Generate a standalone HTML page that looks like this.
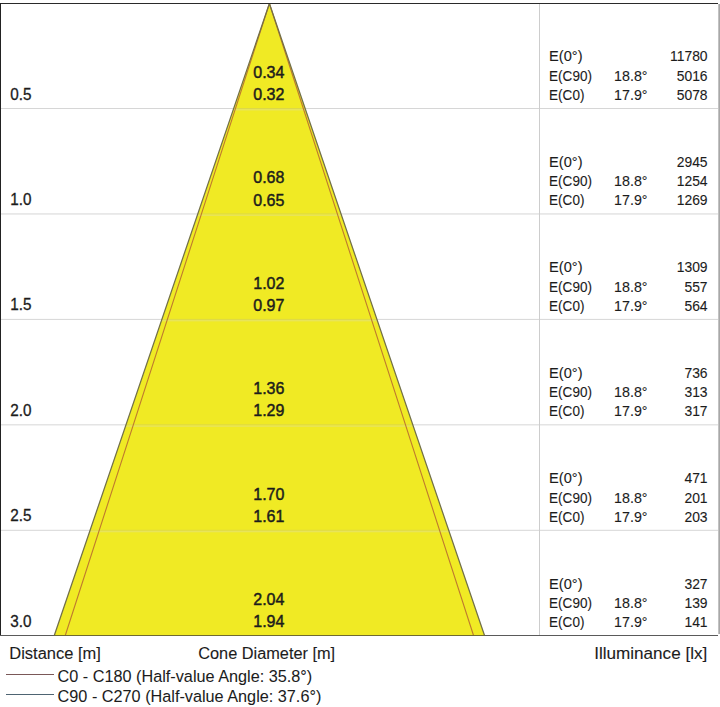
<!DOCTYPE html><html><head><meta charset="utf-8"><style>html,body{margin:0;padding:0;background:#fff;width:720px;height:707px;overflow:hidden}svg{display:block}text{font-family:"Liberation Sans",sans-serif;fill:#1c1c1c;stroke:#1c1c1c}</style></head><body>
<svg width="720" height="707" viewBox="0 0 720 707">
<rect x="1" y="108.00" width="717" height="1" fill="#d6d6d6"/>
<rect x="1" y="213.45" width="717" height="1" fill="#d6d6d6"/>
<rect x="1" y="318.90" width="717" height="1" fill="#d6d6d6"/>
<rect x="1" y="424.35" width="717" height="1" fill="#d6d6d6"/>
<rect x="1" y="529.80" width="717" height="1" fill="#d6d6d6"/>
<rect x="539" y="4" width="1" height="631" fill="#cdcdcd"/>
<polygon points="269.40,3.50 54.27,635.50 484.53,635.50" fill="#f0ea24"/>
<rect x="233.8" y="108.00" width="71.1" height="1" fill="#dcd848"/>
<rect x="233.5" y="109.00" width="71.8" height="1.5" fill="#e8e45a"/>
<rect x="197.9" y="213.45" width="142.9" height="1" fill="#dcd848"/>
<rect x="197.6" y="214.45" width="143.6" height="1.5" fill="#e8e45a"/>
<rect x="162.0" y="318.90" width="214.7" height="1" fill="#dcd848"/>
<rect x="161.7" y="319.90" width="215.4" height="1.5" fill="#e8e45a"/>
<rect x="126.1" y="424.35" width="286.5" height="1" fill="#dcd848"/>
<rect x="125.8" y="425.35" width="287.2" height="1.5" fill="#e8e45a"/>
<rect x="90.2" y="529.80" width="358.3" height="1" fill="#dcd848"/>
<rect x="89.9" y="530.80" width="359.0" height="1.5" fill="#e8e45a"/>
<path d="M269.40 3.50 L65.26 635.50 M269.40 3.50 L473.54 635.50" stroke="#bf7a2e" stroke-width="1.1" fill="none"/>
<path d="M269.40 3.50 L54.27 635.50 M269.40 3.50 L484.53 635.50" stroke="#727048" stroke-width="1.25" fill="none"/>
<rect x="0" y="3" width="718" height="1" fill="#2a2a2a"/>
<rect x="0" y="3" width="1" height="633" fill="#222"/>
<rect x="0" y="635" width="718" height="1" fill="#5a5a5a"/>
<rect x="718" y="4" width="1" height="630" fill="#c2c2c2"/>
<rect x="719" y="4" width="1" height="630" fill="#a8a8a8"/>
<rect x="54.3" y="635" width="430.3" height="1" fill="#6f6a30"/>
<text transform="translate(10.28 99.50) scale(0.9260 1)" font-size="16.50" stroke-width="0.30">0.5</text>
<text transform="translate(268.80 77.90) scale(1.0000 1)" font-size="16.00" stroke-width="0.45" text-anchor="middle">0.34</text>
<text transform="translate(268.80 100.10) scale(1.0000 1)" font-size="16.00" stroke-width="0.45" text-anchor="middle">0.32</text>
<text transform="translate(549.10 61.30) scale(1.0595 1)" font-size="13.80" stroke-width="0.10">E(0°)</text>
<text transform="translate(549.10 80.50) scale(0.9810 1)" font-size="13.80" stroke-width="0.10">E(C90)</text>
<text transform="translate(549.10 99.70) scale(0.9810 1)" font-size="13.80" stroke-width="0.10">E(C0)</text>
<text transform="translate(614.10 80.60) scale(1.0190 1)" font-size="14.00" stroke-width="0.10">18.8°</text>
<text transform="translate(614.10 99.80) scale(1.0190 1)" font-size="14.00" stroke-width="0.10">17.9°</text>
<text transform="translate(707.60 61.30) scale(0.9790 1)" font-size="14.20" stroke-width="0.10" text-anchor="end">11780</text>
<text transform="translate(707.60 80.50) scale(0.9790 1)" font-size="14.20" stroke-width="0.10" text-anchor="end">5016</text>
<text transform="translate(707.60 99.70) scale(0.9790 1)" font-size="14.20" stroke-width="0.10" text-anchor="end">5078</text>
<text transform="translate(10.28 204.95) scale(0.9260 1)" font-size="16.50" stroke-width="0.30">1.0</text>
<text transform="translate(268.80 183.35) scale(1.0000 1)" font-size="16.00" stroke-width="0.45" text-anchor="middle">0.68</text>
<text transform="translate(268.80 205.55) scale(1.0000 1)" font-size="16.00" stroke-width="0.45" text-anchor="middle">0.65</text>
<text transform="translate(549.10 166.80) scale(1.0595 1)" font-size="13.80" stroke-width="0.10">E(0°)</text>
<text transform="translate(549.10 186.00) scale(0.9810 1)" font-size="13.80" stroke-width="0.10">E(C90)</text>
<text transform="translate(549.10 205.20) scale(0.9810 1)" font-size="13.80" stroke-width="0.10">E(C0)</text>
<text transform="translate(614.10 186.10) scale(1.0190 1)" font-size="14.00" stroke-width="0.10">18.8°</text>
<text transform="translate(614.10 205.30) scale(1.0190 1)" font-size="14.00" stroke-width="0.10">17.9°</text>
<text transform="translate(707.60 166.80) scale(0.9790 1)" font-size="14.20" stroke-width="0.10" text-anchor="end">2945</text>
<text transform="translate(707.60 186.00) scale(0.9790 1)" font-size="14.20" stroke-width="0.10" text-anchor="end">1254</text>
<text transform="translate(707.60 205.20) scale(0.9790 1)" font-size="14.20" stroke-width="0.10" text-anchor="end">1269</text>
<text transform="translate(10.28 310.40) scale(0.9260 1)" font-size="16.50" stroke-width="0.30">1.5</text>
<text transform="translate(268.80 288.80) scale(1.0000 1)" font-size="16.00" stroke-width="0.45" text-anchor="middle">1.02</text>
<text transform="translate(268.80 311.00) scale(1.0000 1)" font-size="16.00" stroke-width="0.45" text-anchor="middle">0.97</text>
<text transform="translate(549.10 272.30) scale(1.0595 1)" font-size="13.80" stroke-width="0.10">E(0°)</text>
<text transform="translate(549.10 291.50) scale(0.9810 1)" font-size="13.80" stroke-width="0.10">E(C90)</text>
<text transform="translate(549.10 310.70) scale(0.9810 1)" font-size="13.80" stroke-width="0.10">E(C0)</text>
<text transform="translate(614.10 291.60) scale(1.0190 1)" font-size="14.00" stroke-width="0.10">18.8°</text>
<text transform="translate(614.10 310.80) scale(1.0190 1)" font-size="14.00" stroke-width="0.10">17.9°</text>
<text transform="translate(707.60 272.30) scale(0.9790 1)" font-size="14.20" stroke-width="0.10" text-anchor="end">1309</text>
<text transform="translate(707.60 291.50) scale(0.9790 1)" font-size="14.20" stroke-width="0.10" text-anchor="end">557</text>
<text transform="translate(707.60 310.70) scale(0.9790 1)" font-size="14.20" stroke-width="0.10" text-anchor="end">564</text>
<text transform="translate(10.28 415.85) scale(0.9260 1)" font-size="16.50" stroke-width="0.30">2.0</text>
<text transform="translate(268.80 394.25) scale(1.0000 1)" font-size="16.00" stroke-width="0.45" text-anchor="middle">1.36</text>
<text transform="translate(268.80 416.45) scale(1.0000 1)" font-size="16.00" stroke-width="0.45" text-anchor="middle">1.29</text>
<text transform="translate(549.10 377.80) scale(1.0595 1)" font-size="13.80" stroke-width="0.10">E(0°)</text>
<text transform="translate(549.10 397.00) scale(0.9810 1)" font-size="13.80" stroke-width="0.10">E(C90)</text>
<text transform="translate(549.10 416.20) scale(0.9810 1)" font-size="13.80" stroke-width="0.10">E(C0)</text>
<text transform="translate(614.10 397.10) scale(1.0190 1)" font-size="14.00" stroke-width="0.10">18.8°</text>
<text transform="translate(614.10 416.30) scale(1.0190 1)" font-size="14.00" stroke-width="0.10">17.9°</text>
<text transform="translate(707.60 377.80) scale(0.9790 1)" font-size="14.20" stroke-width="0.10" text-anchor="end">736</text>
<text transform="translate(707.60 397.00) scale(0.9790 1)" font-size="14.20" stroke-width="0.10" text-anchor="end">313</text>
<text transform="translate(707.60 416.20) scale(0.9790 1)" font-size="14.20" stroke-width="0.10" text-anchor="end">317</text>
<text transform="translate(10.28 521.30) scale(0.9260 1)" font-size="16.50" stroke-width="0.30">2.5</text>
<text transform="translate(268.80 499.70) scale(1.0000 1)" font-size="16.00" stroke-width="0.45" text-anchor="middle">1.70</text>
<text transform="translate(268.80 521.90) scale(1.0000 1)" font-size="16.00" stroke-width="0.45" text-anchor="middle">1.61</text>
<text transform="translate(549.10 483.30) scale(1.0595 1)" font-size="13.80" stroke-width="0.10">E(0°)</text>
<text transform="translate(549.10 502.50) scale(0.9810 1)" font-size="13.80" stroke-width="0.10">E(C90)</text>
<text transform="translate(549.10 521.70) scale(0.9810 1)" font-size="13.80" stroke-width="0.10">E(C0)</text>
<text transform="translate(614.10 502.60) scale(1.0190 1)" font-size="14.00" stroke-width="0.10">18.8°</text>
<text transform="translate(614.10 521.80) scale(1.0190 1)" font-size="14.00" stroke-width="0.10">17.9°</text>
<text transform="translate(707.60 483.30) scale(0.9790 1)" font-size="14.20" stroke-width="0.10" text-anchor="end">471</text>
<text transform="translate(707.60 502.50) scale(0.9790 1)" font-size="14.20" stroke-width="0.10" text-anchor="end">201</text>
<text transform="translate(707.60 521.70) scale(0.9790 1)" font-size="14.20" stroke-width="0.10" text-anchor="end">203</text>
<text transform="translate(10.28 626.75) scale(0.9260 1)" font-size="16.50" stroke-width="0.30">3.0</text>
<text transform="translate(268.80 605.15) scale(1.0000 1)" font-size="16.00" stroke-width="0.45" text-anchor="middle">2.04</text>
<text transform="translate(268.80 627.35) scale(1.0000 1)" font-size="16.00" stroke-width="0.45" text-anchor="middle">1.94</text>
<text transform="translate(549.10 588.80) scale(1.0595 1)" font-size="13.80" stroke-width="0.10">E(0°)</text>
<text transform="translate(549.10 608.00) scale(0.9810 1)" font-size="13.80" stroke-width="0.10">E(C90)</text>
<text transform="translate(549.10 627.20) scale(0.9810 1)" font-size="13.80" stroke-width="0.10">E(C0)</text>
<text transform="translate(614.10 608.10) scale(1.0190 1)" font-size="14.00" stroke-width="0.10">18.8°</text>
<text transform="translate(614.10 627.30) scale(1.0190 1)" font-size="14.00" stroke-width="0.10">17.9°</text>
<text transform="translate(707.60 588.80) scale(0.9790 1)" font-size="14.20" stroke-width="0.10" text-anchor="end">327</text>
<text transform="translate(707.60 608.00) scale(0.9790 1)" font-size="14.20" stroke-width="0.10" text-anchor="end">139</text>
<text transform="translate(707.60 627.20) scale(0.9790 1)" font-size="14.20" stroke-width="0.10" text-anchor="end">141</text>
<text transform="translate(9.30 658.70) scale(1.0300 1)" font-size="16.00" stroke-width="0.10">Distance [m]</text>
<text transform="translate(198.20 659.10) scale(1.0200 1)" font-size="16.00" stroke-width="0.10">Cone Diameter [m]</text>
<text transform="translate(594.20 659.00) scale(1.0700 1)" font-size="16.00" stroke-width="0.10">Illuminance [lx]</text>
<rect x="6" y="674" width="48" height="1" fill="#7a5858"/>
<rect x="6" y="694" width="48" height="1" fill="#4e6472"/>
<text transform="translate(57.60 681.70) scale(1.0150 1)" font-size="16.00" stroke-width="0.05">C0 - C180 (Half-value Angle: 35.8°)</text>
<text transform="translate(57.60 701.50) scale(1.0160 1)" font-size="16.00" stroke-width="0.05">C90 - C270 (Half-value Angle: 37.6°)</text>
</svg></body></html>
